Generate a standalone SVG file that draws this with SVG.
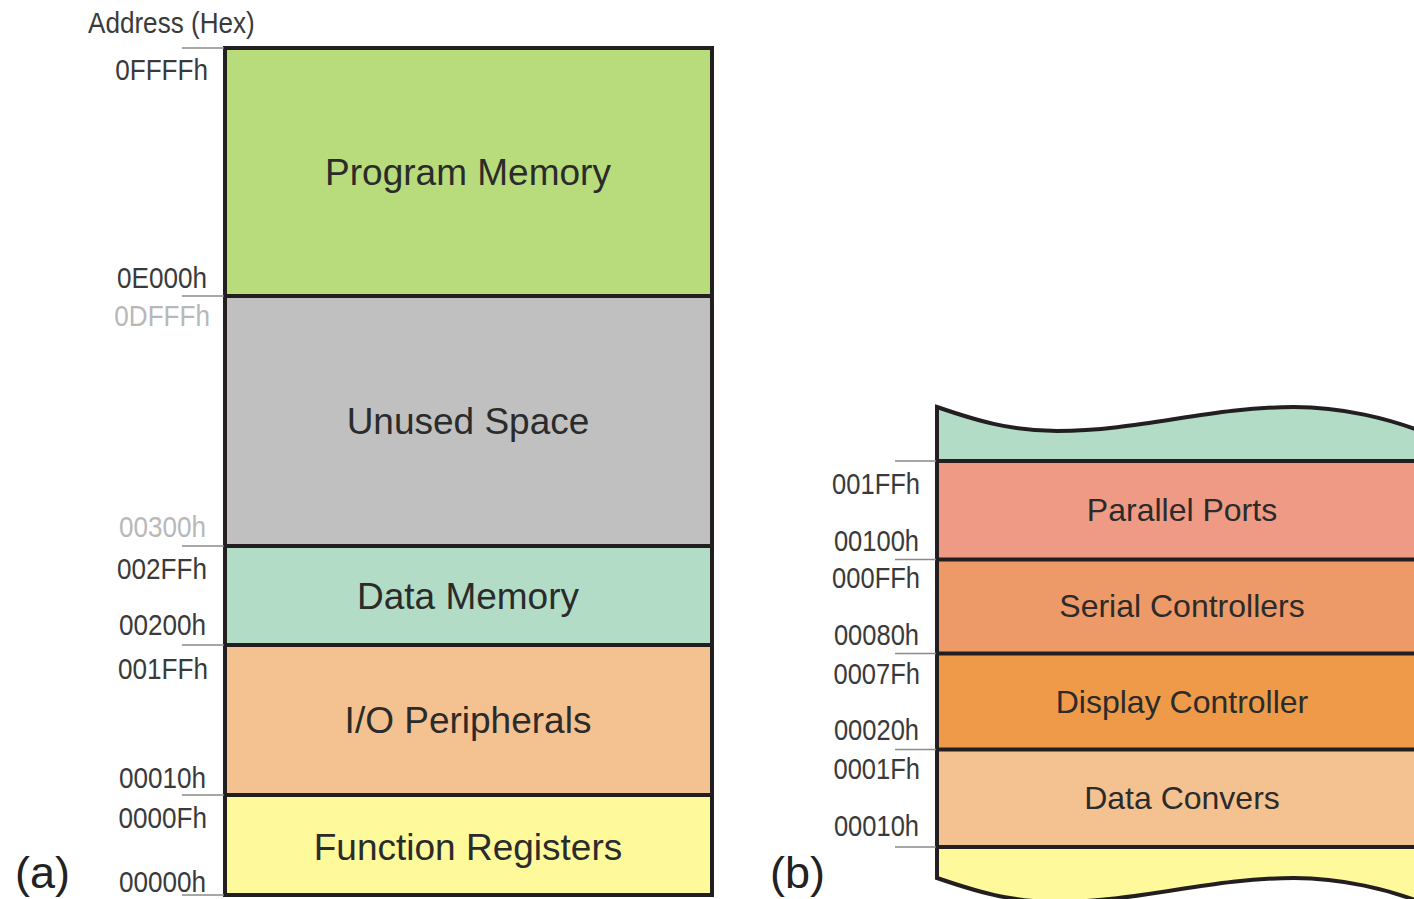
<svg xmlns="http://www.w3.org/2000/svg" width="1414" height="899" viewBox="0 0 1414 899">
<style>
.b{stroke:#231f20;stroke-width:4}
.tick{stroke:#8a8a8a;stroke-width:1.5}
.lbl{font-family:"Liberation Sans",Arial,sans-serif;font-size:37px;fill:#2b2b2b;text-anchor:middle}
.lblr{font-family:"Liberation Sans",Arial,sans-serif;font-size:32px;fill:#2b2b2b;text-anchor:middle}
.addr{font-family:"Liberation Sans",Arial,sans-serif;font-size:30px;fill:#3a3a3a;text-anchor:end}
.addrr{font-family:"Liberation Sans",Arial,sans-serif;font-size:29px;fill:#3a3a3a;text-anchor:end}
.gray{fill:#b8b8b8}
.cap{font-family:"Liberation Sans",Arial,sans-serif;font-size:45px;fill:#222}
</style>
<rect width="1414" height="899" fill="#ffffff"/>

<g id="panel-a">
  <g id="program-memory">
    <rect x="225" y="48" width="487" height="248" fill="#b8dc7c"/>
    <text class="lbl" x="468" y="185">Program Memory</text>
  </g>
  <g id="unused-space">
    <rect x="225" y="296" width="487" height="250" fill="#c0c0c0"/>
    <text class="lbl" x="468" y="434">Unused Space</text>
  </g>
  <g id="data-memory">
    <rect x="225" y="546" width="487" height="99" fill="#b3dcc6"/>
    <text class="lbl" x="468" y="609">Data Memory</text>
  </g>
  <g id="io-peripherals">
    <rect x="225" y="645" width="487" height="150" fill="#f4c290"/>
    <text class="lbl" x="468" y="733">I/O Peripherals</text>
  </g>
  <g id="function-registers">
    <rect x="225" y="795" width="487" height="100" fill="#fef99a"/>
    <text class="lbl" x="468" y="860">Function Registers</text>
  </g>
  <g id="frame-a" fill="none">
    <rect class="b" x="225" y="48" width="487" height="847"/>
    <line class="b" x1="225" y1="296" x2="712" y2="296"/>
    <line class="b" x1="225" y1="546" x2="712" y2="546"/>
    <line class="b" x1="225" y1="645" x2="712" y2="645"/>
    <line class="b" x1="225" y1="795" x2="712" y2="795"/>
  </g>
  <g id="ticks-a">
    <line class="tick" x1="182" y1="48" x2="224" y2="48"/>
    <line class="tick" x1="182" y1="296" x2="224" y2="296"/>
    <line class="tick" x1="182" y1="546" x2="224" y2="546"/>
    <line class="tick" x1="182" y1="645" x2="224" y2="645"/>
    <line class="tick" x1="182" y1="795" x2="224" y2="795"/>
    <line class="tick" x1="182" y1="895" x2="224" y2="895"/>
  </g>
  <g id="addresses-a">
    <text class="addr" style="text-anchor:start" transform="translate(88,33) scale(0.87,1)">Address (Hex)</text>
    <text class="addr" transform="translate(208,80) scale(0.87,1)">0FFFFh</text>
    <text class="addr" transform="translate(207,288) scale(0.87,1)">0E000h</text>
    <text class="addr gray" transform="translate(210,326) scale(0.87,1)">0DFFFh</text>
    <text class="addr gray" transform="translate(206,537) scale(0.87,1)">00300h</text>
    <text class="addr" transform="translate(207,579) scale(0.87,1)">002FFh</text>
    <text class="addr" transform="translate(206,635) scale(0.87,1)">00200h</text>
    <text class="addr" transform="translate(208,679) scale(0.87,1)">001FFh</text>
    <text class="addr" transform="translate(206,788) scale(0.87,1)">00010h</text>
    <text class="addr" transform="translate(207,828) scale(0.87,1)">0000Fh</text>
    <text class="addr" transform="translate(206,892) scale(0.87,1)">00000h</text>
  </g>
  <text id="label-a" class="cap" x="15" y="888">(a)</text>
</g>

<g id="panel-b">
  <g id="top-cut">
    <path d="M937,407 C975,420 1010,431 1057,431 C1140,431 1210,407 1294,407 C1340,407 1390,418 1430,435 L1430,461 L937,461 Z" fill="#b3dcc6"/>
  </g>
  <g id="parallel-ports">
    <rect x="937" y="461" width="493" height="98.5" fill="#ef9a84"/>
    <text class="lblr" x="1182" y="521">Parallel Ports</text>
  </g>
  <g id="serial-controllers">
    <rect x="937" y="559.5" width="493" height="94" fill="#ed9a68"/>
    <text class="lblr" x="1182" y="617">Serial Controllers</text>
  </g>
  <g id="display-controller">
    <rect x="937" y="653.5" width="493" height="96" fill="#ef9a48"/>
    <text class="lblr" x="1182" y="713">Display Controller</text>
  </g>
  <g id="data-convers">
    <rect x="937" y="749.5" width="493" height="97.5" fill="#f4c290"/>
    <text class="lblr" x="1182" y="809">Data Convers</text>
  </g>
  <g id="bottom-cut">
    <path d="M937,847 L937,878 C975,891 1010,902 1057,902 C1140,902 1210,878 1294,878 C1340,878 1390,889 1430,906 L1430,847 Z" fill="#fef99a"/>
  </g>
  <g id="frame-b" fill="none">
    <path class="b" d="M1430,435 C1390,418 1340,407 1294,407 C1210,407 1140,431 1057,431 C1010,431 975,420 937,407 L937,878 C975,891 1010,902 1057,902 C1140,902 1210,878 1294,878 C1340,878 1390,889 1430,906"/>
    <line class="b" x1="937" y1="461" x2="1430" y2="461"/>
    <line class="b" x1="937" y1="559.5" x2="1430" y2="559.5"/>
    <line class="b" x1="937" y1="653.5" x2="1430" y2="653.5"/>
    <line class="b" x1="937" y1="749.5" x2="1430" y2="749.5"/>
    <line class="b" x1="937" y1="847" x2="1430" y2="847"/>
  </g>
  <g id="ticks-b">
    <line class="tick" x1="895" y1="461" x2="936" y2="461"/>
    <line class="tick" x1="895" y1="559.5" x2="936" y2="559.5"/>
    <line class="tick" x1="895" y1="653.5" x2="936" y2="653.5"/>
    <line class="tick" x1="895" y1="749.5" x2="936" y2="749.5"/>
    <line class="tick" x1="895" y1="847" x2="936" y2="847"/>
  </g>
  <g id="addresses-b">
    <text class="addrr" transform="translate(920,494) scale(0.88,1)">001FFh</text>
    <text class="addrr" transform="translate(919,551) scale(0.88,1)">00100h</text>
    <text class="addrr" transform="translate(920,588) scale(0.88,1)">000FFh</text>
    <text class="addrr" transform="translate(919,645) scale(0.88,1)">00080h</text>
    <text class="addrr" transform="translate(920,684) scale(0.88,1)">0007Fh</text>
    <text class="addrr" transform="translate(919,740) scale(0.88,1)">00020h</text>
    <text class="addrr" transform="translate(920,779) scale(0.88,1)">0001Fh</text>
    <text class="addrr" transform="translate(919,836) scale(0.88,1)">00010h</text>
  </g>
  <text id="label-b" class="cap" x="770" y="888">(b)</text>
</g>
</svg>
